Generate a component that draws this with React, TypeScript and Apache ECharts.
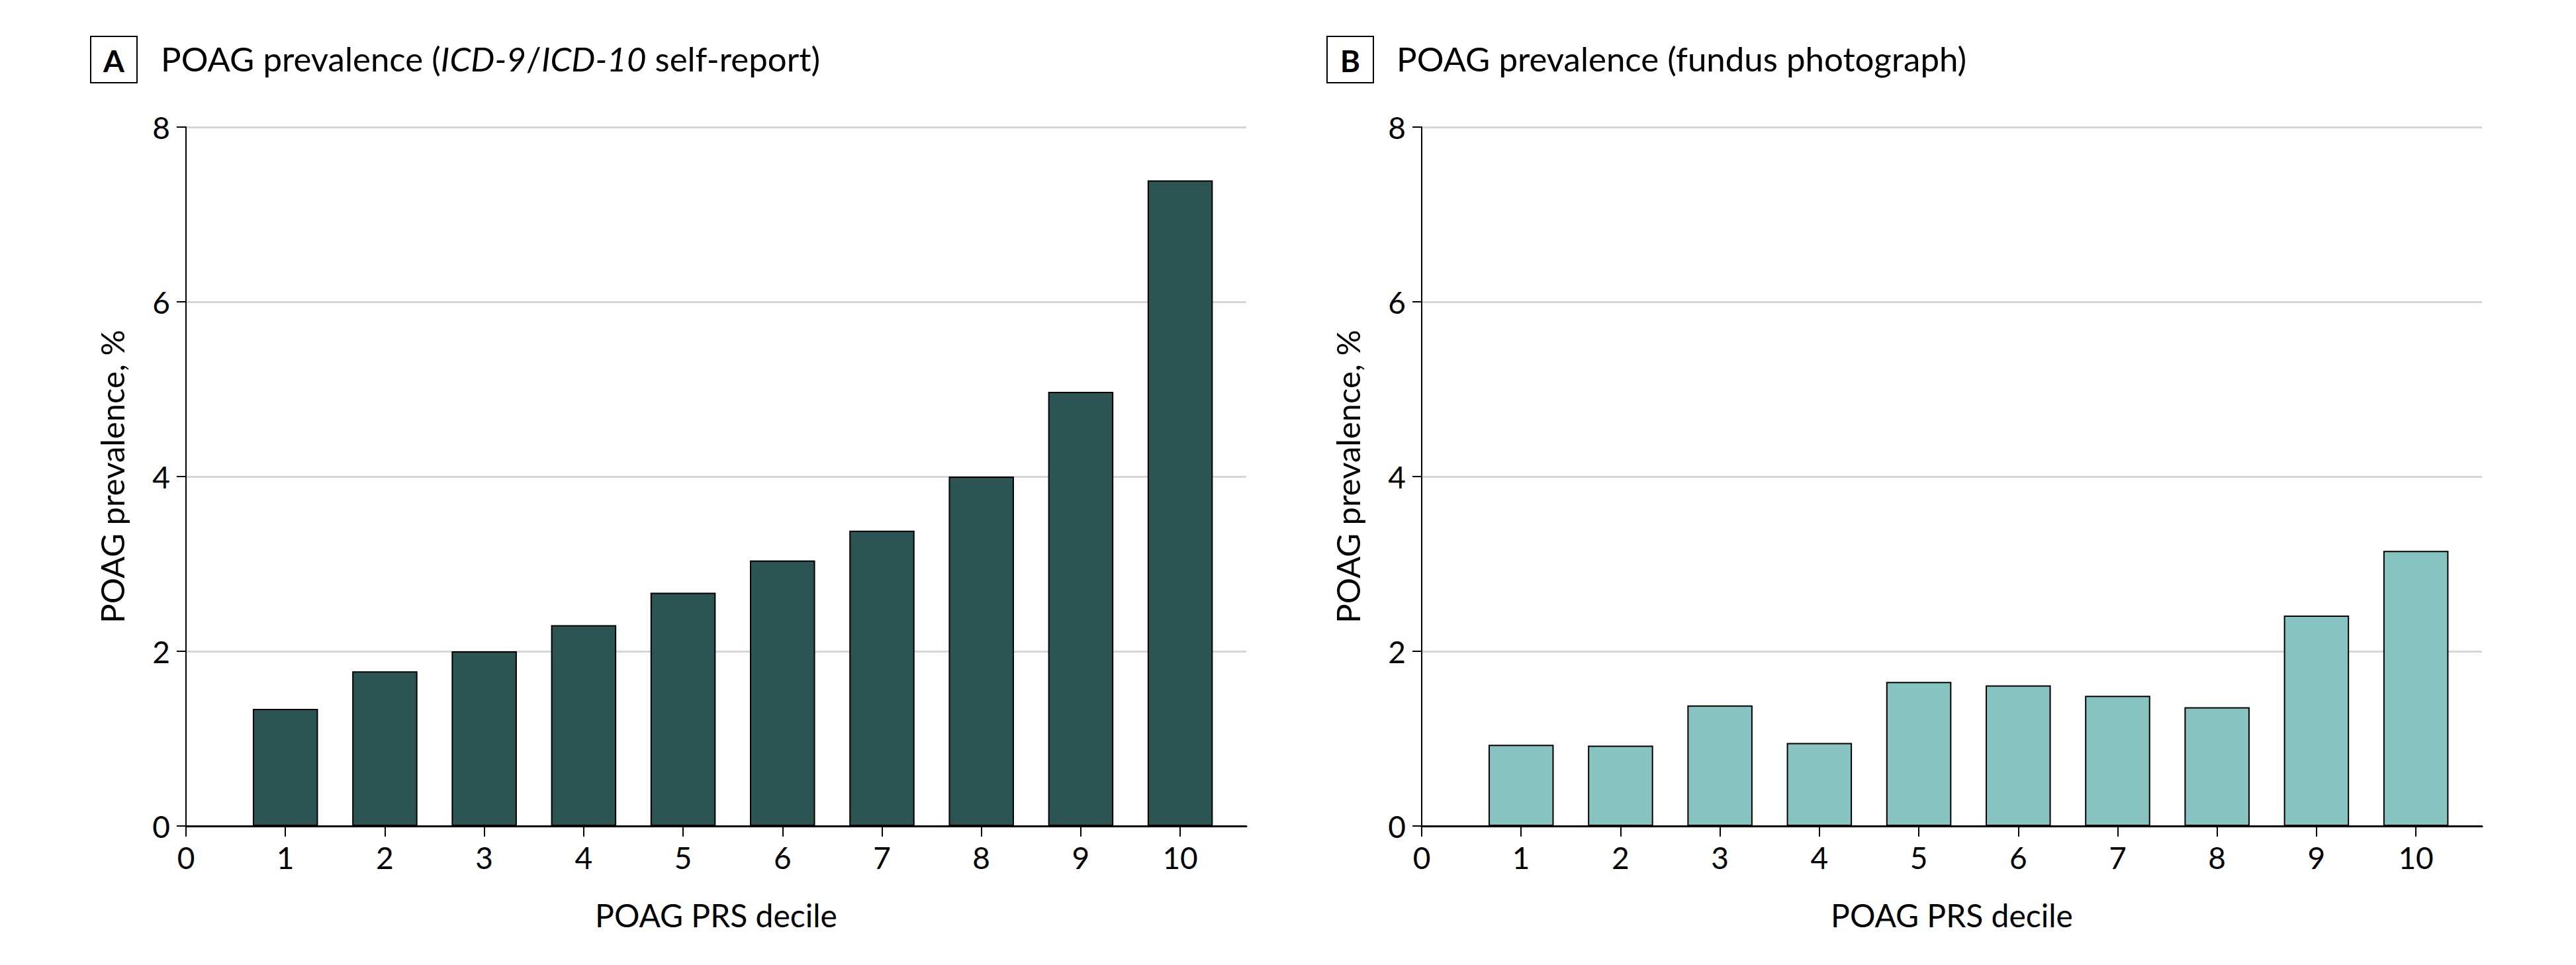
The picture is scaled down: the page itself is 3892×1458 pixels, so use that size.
import React, { useEffect, useRef } from "react";
import * as echarts from "echarts";

const deciles = [1, 2, 3, 4, 5, 6, 7, 8, 9, 10];
const prevalenceSelfReport = [1.34, 1.77, 2.0, 2.3, 2.67, 3.04, 3.38, 4.0, 4.97, 7.39];
const prevalenceFundus = [0.93, 0.92, 1.38, 0.95, 1.65, 1.61, 1.49, 1.36, 2.41, 3.15];
const xTickValues = [0, 1, 2, 3, 4, 5, 6, 7, 8, 9, 10];
const panelLetters = ["A", "B"];
const xAxisName = "POAG PRS decile";
const yAxisName = "POAG prevalence, %";

const FONT = "Lato, 'Noto Sans', sans-serif";
const DARK = "#2B5453";
const LIGHT = "#86C3C1";

export default function App() {
  const ref = useRef<HTMLDivElement>(null);

  useEffect(() => {
    if (!ref.current) return;
    const chart = echarts.init(ref.current, null, { renderer: "svg" });

    const grids = [
      { left: 281, top: 192, width: 1602, height: 1056 },
      { left: 2148, top: 192, width: 1602, height: 1056 },
    ];

    const xAxis = grids.map((_, i) => ({
      type: "value",
      gridIndex: i,
      min: 0,
      max: 10.665,
      interval: 1,
      name: xAxisName,
      nameLocation: "middle",
      nameGap: 110,
      nameTextStyle: { fontFamily: FONT, fontSize: 48, color: "#000" },
      axisLine: { show: true, onZero: false, lineStyle: { color: "#000", width: 3 } },
      axisTick: {
        show: true,
        length: 16,
        lineStyle: { color: "#000", width: 2 },
        customValues: xTickValues,
      },
      axisLabel: {
        show: true,
        margin: 24,
        fontFamily: FONT,
        fontSize: 46,
        color: "#000",
        customValues: xTickValues,
      },
      splitLine: { show: false },
    }));

    const yAxis = grids.map((_, i) => ({
      type: "value",
      gridIndex: i,
      min: 0,
      max: 8,
      interval: 2,
      name: yAxisName,
      nameLocation: "middle",
      nameGap: 88,
      nameTextStyle: { fontFamily: FONT, fontSize: 49, color: "#000" },
      axisLine: { show: true, lineStyle: { color: "#000", width: 2 } },
      axisTick: { show: true, length: 14, lineStyle: { color: "#000", width: 2 } },
      axisLabel: { margin: 24, fontFamily: FONT, fontSize: 46, color: "#000" },
      splitLine: { show: true, lineStyle: { color: "#D6D6D6", width: 3 } },
    }));

    const makeSeries = (vals: number[], idx: number, color: string) => ({
      type: "bar",
      xAxisIndex: idx,
      yAxisIndex: idx,
      barWidth: "65.6%",
      data: deciles.map((d, k) => [d, vals[k]]),
      itemStyle: { color, borderColor: "#000", borderWidth: 2 },
      z: 3,
    });

    const titleA = "{n|POAG prevalence (}{i|ICD-9}{n|/}{i|ICD-10}{n| self-report)}";
    const titleB = "{n|POAG prevalence (fundus photograph)}";
    const rich = {
      n: { fontFamily: FONT, fontSize: 51, fill: "#000", color: "#000" },
      i: { fontFamily: FONT, fontSize: 51, fontStyle: "italic", fill: "#000", color: "#000" },
    };

    const panelHeader = (letter: string, bx: number, tx: number, text: string) => ({
      type: "group",
      children: [
        {
          type: "rect",
          shape: { x: bx, y: 55, width: 70, height: 70 },
          style: { fill: "#fff", stroke: "#000", lineWidth: 2 },
        },
        {
          type: "text",
          x: bx + 35,
          y: 91,
          style: {
            text: letter,
            fontFamily: FONT,
            fontSize: 46,
            fontWeight: "bold",
            fill: "#000",
            align: "center",
            verticalAlign: "middle",
          },
        },
        {
          type: "text",
          x: tx,
          y: 88,
          style: {
            text,
            rich,
            fontFamily: FONT,
            fontSize: 51,
            fill: "#000",
            align: "left",
            verticalAlign: "middle",
          },
        },
      ],
    });

    chart.setOption({
      animation: false,
      backgroundColor: "#fff",
      grid: grids,
      xAxis,
      yAxis,
      series: [makeSeries(prevalenceSelfReport, 0, DARK), makeSeries(prevalenceFundus, 1, LIGHT)],
      graphic: [
        panelHeader(panelLetters[0], 137, 243, titleA),
        panelHeader(panelLetters[1], 2005, 2110, titleB),
      ],
    });

    return () => chart.dispose();
  }, []);

  return (
    <div
      ref={ref}
      style={{ position: "fixed", left: 0, top: 0, width: 3892, height: 1458, background: "#fff" }}
    />
  );
}
